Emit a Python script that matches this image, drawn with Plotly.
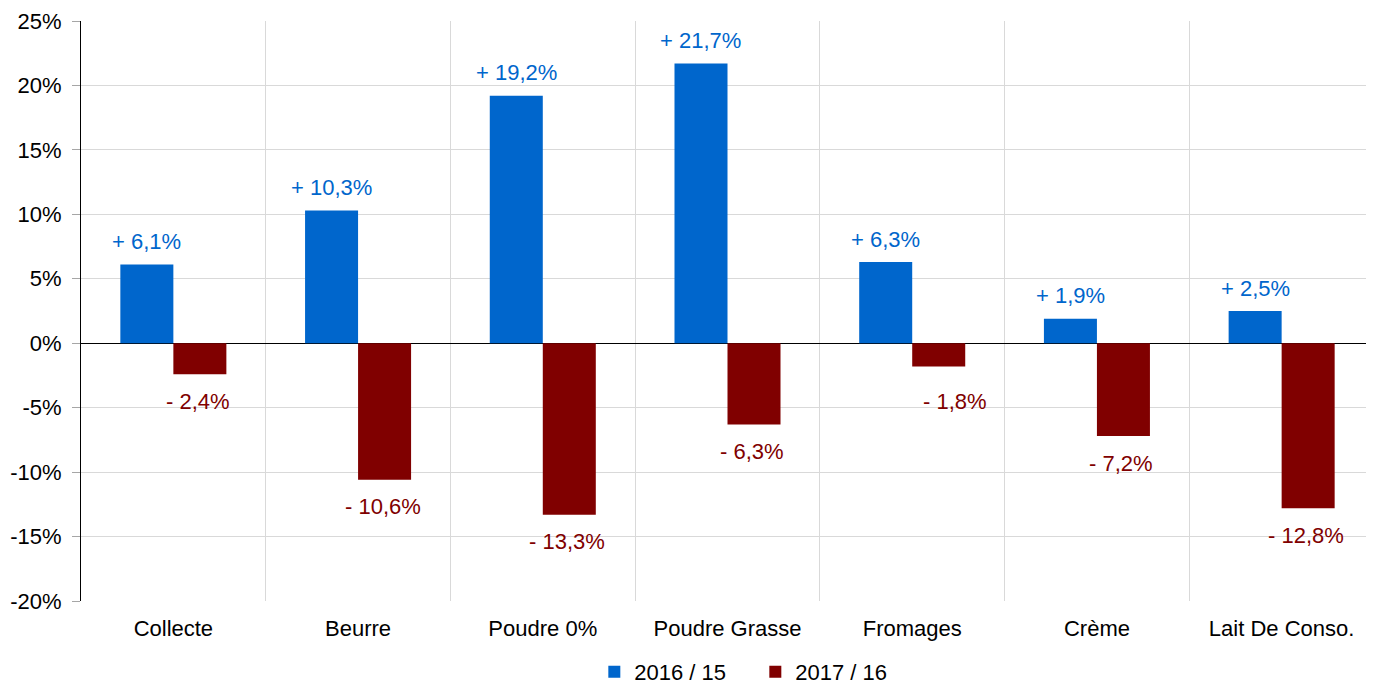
import plotly.graph_objects as go

categories = ["Collecte", "Beurre", "Poudre 0%", "Poudre Grasse", "Fromages", "Crème", "Lait De Conso."]
series_names = ["2016 / 15", "2017 / 16"]
values_2016 = [6.1, 10.3, 19.2, 21.7, 6.3, 1.9, 2.5]
values_2017 = [-2.4, -10.6, -13.3, -6.3, -1.8, -7.2, -12.8]
y_ticks = [-20, -15, -10, -5, 0, 5, 10, 15, 20, 25]

BLUE = "#0066CC"
RED = "#800000"
FONT = "Liberation Sans, Arial, sans-serif"
FS = 22

# extra nudges (px) for labels placed off-centre in the original
label_nudge_2017 = {"Fromages": (18, -8)}

def fmt(v):
    sign = "+" if v >= 0 else "-"
    return f"{sign} {abs(v):.1f}%".replace(".", ",")

fig = go.Figure()
fig.add_trace(go.Bar(x=categories, y=values_2016, name=series_names[0],
                     marker=dict(color=BLUE, line=dict(width=0))))
fig.add_trace(go.Bar(x=categories, y=values_2017, name=series_names[1],
                     marker=dict(color=RED, line=dict(width=0))))

# page body has an 8px margin, so the figure is drawn 8px in from the corner
W, H = 1366, 676
ml, mr, mt, mb = 73, 0, 13, 83
bargap = 0.426
cat_px = (W - ml - mr) / len(categories)
bar_px = cat_px * (1 - bargap) / 2

annotations = []
for c, v in zip(categories, values_2016):
    annotations.append(dict(x=c, y=v, text=fmt(v), showarrow=False, xshift=-bar_px / 2,
                            yshift=23, yanchor="middle",
                            font=dict(family=FONT, size=FS, color=BLUE)))
for c, v in zip(categories, values_2017):
    dx, dy = label_nudge_2017.get(c, (0, 0))
    annotations.append(dict(x=c, y=v, text=fmt(v), showarrow=False, xshift=bar_px / 2 - 2 + dx,
                            yshift=-27 + dy, yanchor="middle",
                            font=dict(family=FONT, size=FS, color=RED)))

fig.update_layout(
    width=W, height=H,
    margin=dict(l=ml, r=mr, t=mt, b=mb, autoexpand=False),
    paper_bgcolor="white", plot_bgcolor="white",
    barmode="group", bargap=bargap, bargroupgap=0,
    font=dict(family=FONT, size=FS, color="#000000"),
    annotations=annotations,
    showlegend=True,
    legend=dict(orientation="h", x=0.397, xanchor="left", y=-0.0863, yanchor="top",
                font=dict(family=FONT, size=FS, color="#000000"),
                entrywidth=116, traceorder="normal"),
    xaxis=dict(type="category", tickson="boundaries", showgrid=True, gridcolor="#d9d9d9",
               gridwidth=1, ticks="", showline=False, ticklabelstandoff=12, automargin=False,
               tickfont=dict(family=FONT, size=FS, color="#000000")),
    yaxis=dict(range=[-20, 25], tickvals=y_ticks, ticktext=[f"{t}%" for t in y_ticks],
               showgrid=True, gridcolor="#d9d9d9", gridwidth=1, automargin=False,
               zeroline=True, zerolinecolor="#000000", zerolinewidth=1,
               showline=True, linecolor="#000000", linewidth=1,
               ticks="outside", ticklen=8, tickcolor="#a6a6a6", ticklabelstandoff=6,
               tickfont=dict(family=FONT, size=FS, color="#000000")),
)

fig.write_html("out.html")
